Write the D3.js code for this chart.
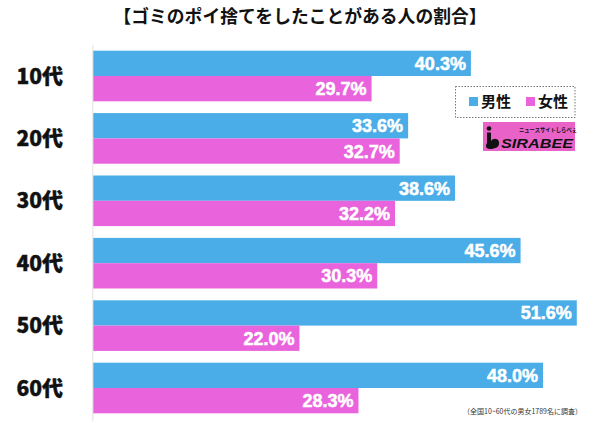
<!DOCTYPE html>
<html>
<head>
<meta charset="utf-8">
<script src="https://cdn.jsdelivr.net/npm/d3@7"></script>
<style>
  body { margin: 0; background: #fff; }
  svg { display: block; }
</style>
</head>
<body>
<svg id="container" width="600" height="423"></svg>
<script>
// data
var title = '【ゴミのポイ捨てをしたことがある人の割合】';
var ages = ['10代', '20代', '30代', '40代', '50代', '60代'];
var sexes = ['男性', '女性'];
var male = [40.3, 33.6, 38.6, 45.6, 51.6, 48.0];
var female = [29.7, 32.7, 32.2, 30.3, 22.0, 28.3];
var note = '（全国10~60代の男女1789名に調査）';

var colors = {'男性': '#4aade8', '女性': '#e863dc'};
var jp = '"Noto Sans CJK JP", "Noto Sans", sans-serif';
var num = '"Liberation Sans", Arial, sans-serif';

var svg = d3.select('#container');

// rows for drawing
var rows = [];
ages.forEach(function(a, i){
  rows.push({age: a, sex: '男性', v: male[i]});
  rows.push({age: a, sex: '女性', v: female[i]});
});

// scales
var x = d3.scaleLinear().domain([0, 50]).range([93.3, 561.8]);
var y = d3.scaleBand().domain(ages).range([50.7, 413.3]).paddingInner(0.189).paddingOuter(0);
var ySex = d3.scaleBand().domain(sexes).range([0, y.bandwidth()]);

//title
svg.append('text')
    .attr('x', 300)
    .attr('y', 23)
    .attr('text-anchor', 'middle')
    .style('font-family', jp)
    .style('font-weight', 700)
    .style('font-size', '17.8px')
    .attr('fill', '#111')
    .text(title);

// axis line
svg.append('line')
    .attr('x1', x(0) - 0.5).attr('x2', x(0) - 0.5)
    .attr('y1', 45).attr('y2', 421)
    .attr('stroke', '#e2e2e2')
    .attr('stroke-width', 1);

// bars
svg.append('g').selectAll('rect')
    .data(rows)
  .enter().append('rect')
    .attr('x', x(0))
    .attr('y', d => y(d.age) + ySex(d.sex))
    .attr('width', d => x(d.v) - x(0))
    .attr('height', ySex.bandwidth())
    .attr('fill', d => colors[d.sex]);

// value labels (thin stroke to mimic the heavier face)
svg.append('g').selectAll('text')
    .data(rows)
  .enter().append('text')
    .attr('x', d => x(d.v) - 5)
    .attr('y', d => y(d.age) + ySex(d.sex) + ySex.bandwidth()/2)
    .attr('dy', '0.36em')
    .attr('text-anchor', 'end')
    .attr('fill', '#fff')
    .attr('stroke', '#fff')
    .attr('stroke-width', 0.5)
    .style('font-family', num)
    .style('font-weight', 700)
    .style('font-size', '18px')
    .text(d => d.v.toFixed(1) + '%');

// category labels
svg.append('g').selectAll('text')
    .data(ages)
  .enter().append('text')
    .attr('x', 63)
    .attr('y', d => y(d) + y.bandwidth()/2)
    .attr('dy', '0.36em')
    .attr('text-anchor', 'end')
    .attr('fill', '#111')
    .attr('stroke', '#111')
    .attr('stroke-width', 0.4)
    .style('font-family', jp)
    .style('font-weight', 900)
    .style('font-size', '21px')
    .text(d => d);

// legend
var legend = svg.append('g');
legend.append('rect')
    .attr('x', 455.5).attr('y', 86.5)
    .attr('width', 119.5).attr('height', 31)
    .attr('fill', '#fff')
    .attr('stroke', '#555')
    .attr('stroke-width', 0.8)
    .attr('stroke-dasharray', '1.5,1.5');
var lx = [469, 526];
sexes.forEach(function(s, i){
  legend.append('rect')
      .attr('x', lx[i]).attr('y', 97)
      .attr('width', 9).attr('height', 9)
      .attr('fill', colors[s]);
  legend.append('text')
      .attr('x', lx[i] + 12)
      .attr('y', 102)
      .attr('dy', '0.36em')
      .attr('fill', '#111')
      .style('font-family', jp)
      .style('font-weight', 700)
      .style('font-size', '15px')
      .text(s);
});

// logo
var logo = svg.append('g');
logo.append('rect')
    .attr('x', 483).attr('y', 122)
    .attr('width', 92).attr('height', 29)
    .attr('fill', '#e862c8');
logo.append('circle')
    .attr('cx', 489).attr('cy', 128.5).attr('r', 2.3)
    .attr('fill', '#111');
logo.append('path')
    .attr('d', 'M487,132.5 L491,132.5 L491,141 C493,138 498,138 499,142 C500,147 495,149 490,149 C486,149 485,146 487,143 Z')
    .attr('fill', '#111');
logo.append('text')
    .attr('x', 519).attr('y', 132)
    .attr('fill', '#111')
    .style('font-family', jp)
    .style('font-weight', 700)
    .style('font-size', '5.3px')
    .text('ニュースサイトしらべぇ');
logo.append('text')
    .attr('x', 501).attr('y', 148)
    .attr('fill', '#111')
    .style('font-family', num)
    .style('font-weight', 700)
    .style('font-style', 'italic')
    .style('font-size', '13px')
    .attr('textLength', 72)
    .attr('lengthAdjust', 'spacingAndGlyphs')
    .text('SIRABEE');

// footnote
svg.append('text')
    .attr('x', 582)
    .attr('y', 414)
    .attr('text-anchor', 'end')
    .attr('fill', '#333')
    .style('font-family', jp)
    .style('font-size', '7px')
    .text(note);
</script>
</body>
</html>
